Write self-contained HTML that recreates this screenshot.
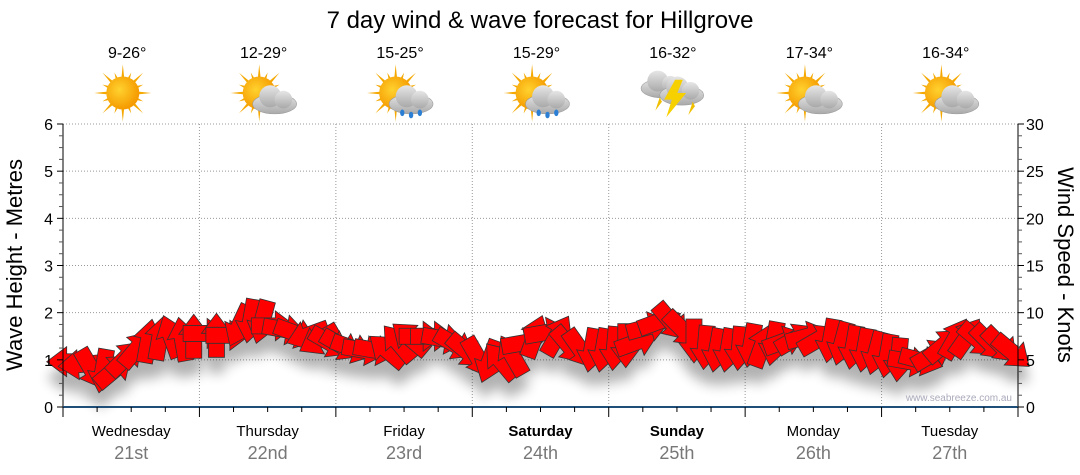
<!DOCTYPE html>
<html><head><meta charset="utf-8"><style>
html,body{margin:0;padding:0;background:#fff;}
svg{display:block;font-family:"Liberation Sans",sans-serif;}
</style></head><body>
<svg id="c" width="1080" height="475" viewBox="0 0 1080 475">
<defs>
<filter id="sh" x="-20%" y="-50%" width="140%" height="250%"><feGaussianBlur stdDeviation="6"/></filter>
<radialGradient id="sun" cx="40%" cy="40%" r="60%"><stop offset="0" stop-color="#ffd22e"/><stop offset="1" stop-color="#f59a00"/></radialGradient>
<linearGradient id="cl" x1="0" y1="0" x2="0" y2="1"><stop offset="0" stop-color="#e6e6e6"/><stop offset="1" stop-color="#a9a9a9"/></linearGradient>
</defs>
<text x="540" y="28" text-anchor="middle" font-size="24" fill="#000">7 day wind &amp; wave forecast for Hillgrove</text>
<text transform="translate(22,265) rotate(-90)" text-anchor="middle" font-size="22" fill="#000">Wave Height - Metres</text>
<text transform="translate(1058,265) rotate(90)" text-anchor="middle" font-size="22" fill="#000">Wind Speed - Knots</text>
<g id="grid"></g><g id="icons"></g><g id="shadow" filter="url(#sh)" opacity="0.3"></g><g id="arrows"></g><g id="axes"></g>
<text x="1012" y="401" text-anchor="end" font-size="10" fill="#aab">www.seabreeze.com.au</text>
</svg>
<script>
const NS="http://www.w3.org/2000/svg";
const days=["Wednesday","Thursday","Friday","Saturday","Sunday","Monday","Tuesday"];
const dates=["21st","22nd","23rd","24th","25th","26th","27th"];
const weekend=[false,false,false,true,true,false,false];
const temps=["9-26°","12-29°","15-25°","15-29°","16-32°","17-34°","16-34°"];
const icons=["sun","suncloud","sunrain","sunrain","storm","suncloud","suncloud"];
const waveTicks=[0,1,2,3,4,5,6];
const windTicks=[0,5,10,15,20,25,30];
// wind speed (knots) every 2 hours from Wed 00:00
const windSpeed=[4.8,4.5,4.0,3.8,3.9,5.2,6.2,7.0,7.3,7.5,7.2,7.5,
7.8,7.6,7.6,8.6,9.1,9.0,8.6,8.2,7.8,7.6,7.1,6.8,
6.5,6.2,6.0,6.0,6.0,6.8,7.3,7.5,7.5,7.2,6.6,5.9,
5.2,4.8,4.9,5.5,6.8,7.5,7.9,7.6,6.5,6.1,6.0,6.0,
6.2,6.5,6.9,8.5,9.1,9.0,8.2,7.0,6.3,6.0,6.0,6.2,
6.5,6.5,6.7,7.0,7.3,7.5,7.2,7.0,6.7,6.3,6.0,5.7,
5.4,5.0,4.8,4.9,5.6,6.6,7.3,7.4,7.1,6.8,6.5,5.8];
// arrow direction in degrees (0 = pointing right, 90 = pointing down)
const windDir=[180,175,60,100,-40,-45,-50,-80,-80,-110,-100,-90,
0,-90,0,115,100,105,0,10,20,160,150,30,
30,20,10,10,-140,-130,-140,0,0,10,30,40,
60,110,-130,-120,-10,-70,-10,-60,50,55,100,100,
95,90,-20,-15,-20,50,45,90,95,100,100,95,
100,-70,100,-20,-30,-15,-30,100,105,100,100,105,
100,95,10,15,-30,-40,-60,-55,40,45,45,40];
const x0=63,x1=1018,yTop=124,yBot=407;
const dayW=(x1-x0)/7;
const xs=h=>x0+h/24*dayW;
const yWave=m=>yBot-m/6*(yBot-yTop);
const yWind=k=>yBot-k/30*(yBot-yTop);
function el(tag,attrs,parent,txt){const e=document.createElementNS(NS,tag);for(const k in attrs)e.setAttribute(k,attrs[k]);if(txt!==undefined)e.textContent=txt;parent.appendChild(e);return e;}
const grid=document.getElementById('grid'),axes=document.getElementById('axes'),ic=document.getElementById('icons');
waveTicks.forEach(m=>{if(m===0)return;const l=el('line',{x1:x0,x2:x1,y1:yWave(m),y2:yWave(m),stroke:'#999','stroke-dasharray':'1,2'},grid);

});
for(let d=1;d<7;d++){const l=el('line',{x1:x0+d*dayW,x2:x0+d*dayW,y1:yTop,y2:yBot,stroke:'#999','stroke-dasharray':'1,2'},grid);

}
el('line',{x1:x0,x2:x0,y1:yTop,y2:yBot,stroke:'#000'},axes);
for(let i=0;i<=24;i++){const y=yWave(i/4);el('line',{x1:i%4?x0-4:x0-6,x2:x0,y1:y,y2:y,stroke:i%4?'#555':'#000'},axes);}
waveTicks.forEach(m=>{const t=el('text',{x:x0-10,y:yWave(m)+6,'text-anchor':'end','font-size':16},axes,m);

});
el('line',{x1:x1,x2:x1,y1:yTop,y2:yBot,stroke:'#000'},axes);
for(let i=0;i<=24;i++){const y=yWind(i*1.25);el('line',{x1:x1,x2:i%4?x1+4:x1+6,y1:y,y2:y,stroke:i%4?'#555':'#000'},axes);}
windTicks.forEach(k=>{const t=el('text',{x:x1+8,y:yWind(k)+6,'font-size':16},axes,k);

});
el('line',{x1:x0,x2:x1,y1:yBot,y2:yBot,stroke:'#1f4e79','stroke-width':2},axes);
for(let i=0;i<=28;i++){const x=x0+i*dayW/4;el('line',{x1:x,x2:x,y1:yBot,y2:yBot+(i%4?5:10),stroke:'#000'},axes);}
days.forEach((d,i)=>{const cx=x0+(i+.5)*dayW;
const t=el('text',{x:cx,y:436,'text-anchor':'middle','font-size':15,'font-weight':weekend[i]?'bold':'normal'},axes,d);


const t2=el('text',{x:cx,y:459,'text-anchor':'middle','font-size':18,fill:'#777'},axes,dates[i]);


const t3=el('text',{x:cx-4,y:58,'text-anchor':'middle','font-size':16},ic,temps[i]);


const g=el('g',{transform:`translate(${cx-4},93) scale(1.1)`},ic);


drawIcon(g,icons[i]);});
function sun(g,dx,dy){for(let a=0;a<16;a++){const r=a%2?20:26,ang=a*Math.PI/8;el('polygon',{points:`${dx+Math.cos(ang-0.12)*12},${dy+Math.sin(ang-0.12)*12} ${dx+Math.cos(ang)*r},${dy+Math.sin(ang)*r} ${dx+Math.cos(ang+0.12)*12},${dy+Math.sin(ang+0.12)*12}`,fill:'#f5a800'},g);}
el('circle',{cx:dx,cy:dy,r:15,fill:'url(#sun)'},g);}
function cloud(g,dx,dy,s){const c=el('g',{transform:`translate(${dx},${dy}) scale(${s})`},g);
el('ellipse',{cx:0,cy:4,rx:20,ry:9,fill:'url(#cl)',stroke:'#999','stroke-width':.5},c);
el('circle',{cx:-4,cy:-3,r:10,fill:'url(#cl)'},c);el('circle',{cx:8,cy:0,r:8,fill:'url(#cl)'},c);}
function drawIcon(g,type){
if(type==='storm'){cloud(g,-10,-8,0.95);cloud(g,8,-2,1.0);
el('polygon',{points:'-12,4 -16,16 -10,8',fill:'#f0c000'},g);el('polygon',{points:'18,8 14,20 20,12',fill:'#f0c000'},g);
el('polygon',{points:'2,-12 -8,6 -1,6 -6,22 12,0 4,0 9,-12',fill:'#f7d000'},g);return;}
sun(g,-4,0);
if(type!=='sun')cloud(g,10,6,1);
if(type==='sunrain'){[[2,18],[10,20],[18,18]].forEach(p=>el('ellipse',{cx:p[0],cy:p[1],rx:2,ry:3,fill:'#2a7fd4'},g));}}
const ar=document.getElementById('arrows'),sh=document.getElementById('shadow');
const arrowPts="-22,-8 2,-8 2,-15 22,0 2,15 2,8 -22,8";
windSpeed.forEach((k,i)=>{const x=xs(i*2+1),y=yWind(k);
el('polygon',{points:arrowPts,transform:`translate(${x},${y+16}) rotate(${windDir[i]})`,fill:'#000'},sh);
const p=el('polygon',{points:arrowPts,transform:`translate(${x},${y}) rotate(${windDir[i]})`,fill:'#ff0000',stroke:'#333','stroke-width':0.8},ar);

});
</script>
</body></html>
